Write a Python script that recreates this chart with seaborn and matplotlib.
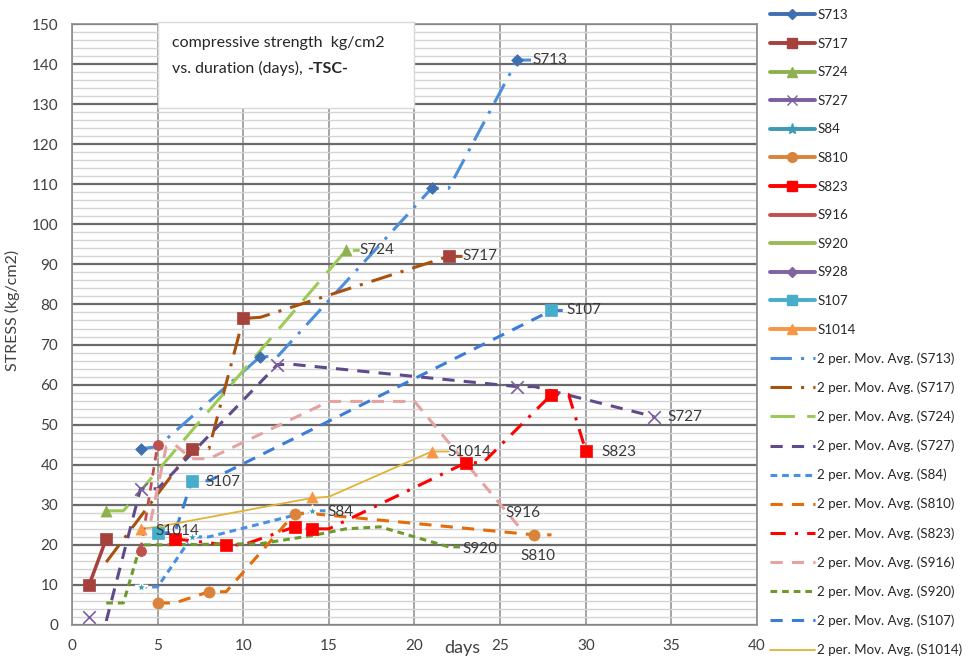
import pandas as pd
import matplotlib
matplotlib.use('Agg')
import matplotlib.pyplot as plt
from matplotlib.lines import Line2D
from matplotlib.patches import Rectangle
from matplotlib.ticker import MultipleLocator
import seaborn as sns

# --- measured points (days, kg/cm2) ---
s713_x = [4, 11, 21, 26]
s713_y = [44, 67, 109, 141]
s717_x = [1, 2, 7, 10, 22]
s717_y = [10, 21.5, 44, 76.5, 92]
s724_x = [2, 16]
s724_y = [28.5, 93.5]
s727_x = [1, 4, 12, 26, 34]
s727_y = [2, 34, 65, 59.5, 52]
s84_x = [4, 7, 14]
s84_y = [9.5, 22, 28.5]
s810_x = [5, 8, 13, 27]
s810_y = [5.5, 8.3, 27.8, 22.5]
s823_x = [6, 9, 13, 14, 23, 28, 30]
s823_y = [21.5, 20, 24.5, 24, 40.5, 57.5, 43.5]
s916_x = [4, 5]
s916_y = [18.5, 45]
s107_x = [5, 7, 28]
s107_y = [23, 36, 78.5]
s1014_x = [4, 14, 21]
s1014_y = [24, 32, 43.3]

# --- "2 per. Mov. Avg." trendlines as drawn in the sheet ---
t713_x = [4, 5, 11, 12, 21, 22, 26, 26.8]
t713_y = [44, 44.5, 67, 67, 109, 109, 141, 141]
t717_x = [2, 7, 8, 10, 11, 22, 22.8]
t717_y = [15.7, 44, 44, 76.5, 76.8, 92, 92]
t724_x = [2, 3, 16, 16.8]
t724_y = [28.5, 28.5, 93.5, 93.5]
t727_x = [2, 4, 5, 12, 13, 26, 27, 34]
t727_y = [1, 34, 34, 65, 65, 59.5, 59.5, 52]
t84_x = [4, 5, 7, 8, 14, 14.8]
t84_y = [9.5, 9.5, 22, 22, 28.5, 28.5]
t810_x = [5, 6, 8, 9, 13, 14, 27, 28]
t810_y = [5.5, 5.5, 8.3, 8.3, 27.8, 27.8, 22.5, 22.5]
t823_x = [6, 7, 9, 10, 13, 14, 15, 23, 24, 28, 29, 30, 30.8]
t823_y = [21.5, 21, 20, 20, 24.5, 24, 24, 40.5, 40.5, 57.5, 57.5, 43.5, 43.5]
t916_x = [4.6, 5.5, 6, 7, 8, 15, 20, 26.3]
t916_y = [26, 44.5, 45, 41.5, 41.5, 55.8, 55.8, 23.5]
t920_x = [2, 3, 4, 5, 11, 14, 16, 18, 20, 22, 22.8]
t920_y = [5.5, 5.5, 20, 20, 20.3, 22.3, 24, 24.5, 22, 19.5, 19.5]
t107_x = [5, 6, 7, 8, 28, 28.8]
t107_y = [23, 23, 36, 36, 78.5, 78.5]
t1014_x = [4, 5, 14, 15, 21, 22]
t1014_y = [24, 24.5, 31.7, 32, 43.3, 43.3]

series_names = ['S713', 'S717', 'S724', 'S727', 'S84', 'S810', 'S823',
                'S916', 'S920', 'S928', 'S107', 'S1014']
trend_names = ['S713', 'S717', 'S724', 'S727', 'S84', 'S810', 'S823',
               'S916', 'S920', 'S107', 'S1014']


def main():
    # colours / markers copied from the Excel look
    serie_color = {'S713': '#3F6FB0', 'S717': '#A5423E', 'S724': '#8DB050',
                   'S727': '#7B5EA0', 'S84': '#3C9AB4', 'S810': '#D9843A',
                   'S823': '#FF0000', 'S916': '#C0504D', 'S920': '#9BBB59',
                   'S928': '#8064A2', 'S107': '#46AECB', 'S1014': '#F79646'}
    serie_marker = {'S713': 'D', 'S717': 's', 'S724': '^', 'S727': 'x',
                    'S84': '*', 'S810': 'o', 'S823': 's', 'S916': None,
                    'S920': None, 'S928': 'D', 'S107': 's', 'S1014': '^'}
    marker_size = {'D': 6, 's': 8.5, '^': 8, 'x': 9, '*': 9, 'o': 8}
    trend_color = {'S713': '#4A8EDC', 'S717': '#A8520F', 'S724': '#9BCB55',
                   'S727': '#5F4A8B', 'S84': '#4A90E2', 'S810': '#E46C0A',
                   'S823': '#FF0000', 'S916': '#E4A3A1', 'S920': '#6E9A2C',
                   'S107': '#3B7DD8', 'S1014': '#E2B236'}
    trend_dash = {'S713': (7, 3, 1, 3), 'S717': (7, 3, 1, 3), 'S724': (8, 4),
                  'S727': (4, 3), 'S84': (2.2, 1.6), 'S810': (4, 3),
                  'S823': (5, 3, 1, 3), 'S916': (4, 3), 'S920': (2.2, 1.6),
                  'S107': (4, 3), 'S1014': ''}

    pts = {'S713': (s713_x, s713_y), 'S717': (s717_x, s717_y),
           'S724': (s724_x, s724_y), 'S727': (s727_x, s727_y),
           'S84': (s84_x, s84_y), 'S810': (s810_x, s810_y),
           'S823': (s823_x, s823_y), 'S107': (s107_x, s107_y),
           'S1014': (s1014_x, s1014_y)}
    trends = {'S713': (t713_x, t713_y), 'S717': (t717_x, t717_y),
              'S724': (t724_x, t724_y), 'S727': (t727_x, t727_y),
              'S84': (t84_x, t84_y), 'S810': (t810_x, t810_y),
              'S823': (t823_x, t823_y), 'S916': (t916_x, t916_y),
              'S920': (t920_x, t920_y), 'S107': (t107_x, t107_y),
              'S1014': (t1014_x, t1014_y)}

    df_trend = pd.concat([pd.DataFrame({'dias': x, 'tensao': y, 'serie': k})
                          for k, (x, y) in trends.items()], ignore_index=True)

    sns.set_style('white')
    plt.rcParams['font.family'] = ['Lato', 'DejaVu Sans']

    fig = plt.figure(figsize=(9.68, 6.62), dpi=100)
    ax = fig.add_axes([72 / 968, 37 / 662, 685 / 968, 601 / 662])

    # --- trendlines ---
    for k in trend_names:
        sub = df_trend[df_trend['serie'] == k]
        lw = 1.3 if k == 'S1014' else 2.2
        line_ax = sns.lineplot(data=sub, x='dias', y='tensao', color=trend_color[k],
                               sort=False, estimator=None, lw=lw, ax=ax, zorder=4)
        if trend_dash[k]:
            line_ax.lines[-1].set_dashes(trend_dash[k])

    # S717 first segment and S916 points keep their series line
    sns.lineplot(x=s717_x[:2], y=s717_y[:2], color=serie_color['S717'], lw=2.5,
                 sort=False, estimator=None, ax=ax, zorder=5)
    sns.lineplot(x=s916_x, y=s916_y, color=serie_color['S916'], lw=2,
                 sort=False, estimator=None, ax=ax, zorder=5,
                 marker='o', markersize=7, markeredgecolor=serie_color['S916'])
    ax.lines[-1].set_dashes((3, 2.5))

    # --- markers ---
    for k, (x, y) in pts.items():
        m = serie_marker[k]
        s = marker_size[m] ** 2
        if m in ('x', '*'):
            sns.scatterplot(x=x, y=y, marker=m, s=s, color=serie_color[k],
                            linewidth=1.2, ax=ax, zorder=6)
        else:
            sns.scatterplot(x=x, y=y, marker=m, s=s, color=serie_color[k],
                            edgecolor=serie_color[k], linewidth=0.5, ax=ax, zorder=6)

    # --- data labels ---
    lab = dict(fontsize=11, color='#3A3A3A', va='center', ha='left', zorder=7)
    ax.text(26.9, 141, 'S713', **lab)
    ax.text(22.8, 92, 'S717', **lab)
    ax.text(16.8, 93.5, 'S724', **lab)
    ax.text(34.8, 52, 'S727', **lab)
    ax.text(14.9, 28.3, 'S84', **lab)
    ax.text(26.2, 17.3, 'S810', **lab)
    ax.text(30.9, 43.3, 'S823', **lab)
    ax.text(25.3, 28.0, 'S916', **lab)
    ax.text(22.8, 19.0, 'S920', **lab)
    ax.text(7.8, 35.8, 'S107', **lab)
    ax.text(28.9, 78.5, 'S107', **lab)
    ax.text(4.85, 23.5, 'S1014', **lab)
    ax.text(21.9, 43.2, 'S1014', **lab)

    # --- axes / grid ---
    ax.set_xlim(0, 40)
    ax.set_ylim(0, 150)
    ax.xaxis.set_major_locator(MultipleLocator(5))
    ax.yaxis.set_major_locator(MultipleLocator(10))
    ax.yaxis.set_minor_locator(MultipleLocator(2))
    ax.set_axisbelow(True)
    ax.grid(which='minor', axis='y', color='#D4D4D4', lw=1.0)
    ax.grid(which='major', axis='y', color='#6A6A6A', lw=1.6)
    ax.grid(which='major', axis='x', color='#A3A3A3', lw=1.4)
    for sp in ax.spines.values():
        sp.set_color('#8C8C8C')
        sp.set_linewidth(1.2)
    ax.tick_params(axis='x', which='both', length=0, pad=10, labelsize=11,
                   labelcolor='#404040')
    ax.tick_params(axis='y', which='major', length=5, width=1.2, color='#8C8C8C',
                   direction='out', pad=5, labelsize=11, labelcolor='#404040')
    ax.tick_params(axis='y', which='minor', length=0)
    ax.set_xlabel('')
    ax.set_ylabel('')
    ax.text(22.77, -0.038, 'days', transform=ax.get_xaxis_transform(),
            ha='center', va='center', fontsize=13, color='#404040')
    ax.text(-0.087, 78.5, 'STRESS (kg/cm2)', transform=ax.get_yaxis_transform(),
            rotation=90, ha='center', va='center', fontsize=11.5, color='#404040')

    # --- title box inside the plot ---
    ax.add_patch(Rectangle((5, 129), 15, 21.5, facecolor='white',
                           edgecolor='#D9D9D9', lw=1, zorder=3, clip_on=False))
    ax.text(5.85, 145.2, 'compressive strength  kg/cm2', fontsize=11.5,
            color='#262626', va='center', zorder=4)
    t1 = ax.text(5.85, 138.8, 'vs. duration (days), ', fontsize=11.5,
                 color='#262626', va='center', zorder=4)
    ax.annotate('-TSC-', xy=(1, 0.5), xycoords=t1, va='center', ha='left',
                fontsize=11.5, fontweight='bold', color='#262626', zorder=4)

    # --- legend on the right ---
    handles = []
    labels = []
    for k in series_names:
        m = serie_marker[k]
        ms = {None: 0, 'D': 5, 's': 7, '^': 6.5, 'x': 7, '*': 8, 'o': 7}[m]
        handles.append(Line2D([], [], color=serie_color[k], lw=2.8, marker=m,
                              markersize=ms, markeredgecolor=serie_color[k]))
        labels.append(k)
    for k in trend_names:
        lw = 1.3 if k == 'S1014' else 2.2
        h = Line2D([], [], color=trend_color[k], lw=lw)
        if trend_dash[k]:
            h.set_dashes(trend_dash[k])
        handles.append(h)
        labels.append('2 per. Mov. Avg. (%s)' % k)
    fig.legend(handles, labels, loc='upper left', bbox_to_anchor=(768 / 968, 1 - 7 / 662),
               frameon=False, fontsize=9.6, handlelength=3.35, handletextpad=0.2,
               labelspacing=1.245, borderpad=0.15, borderaxespad=0,
               labelcolor='#262626')

    plt.savefig('out.png', dpi=100)
    print("Chart 'out.png' saved.")


if __name__ == "__main__":
    main()
